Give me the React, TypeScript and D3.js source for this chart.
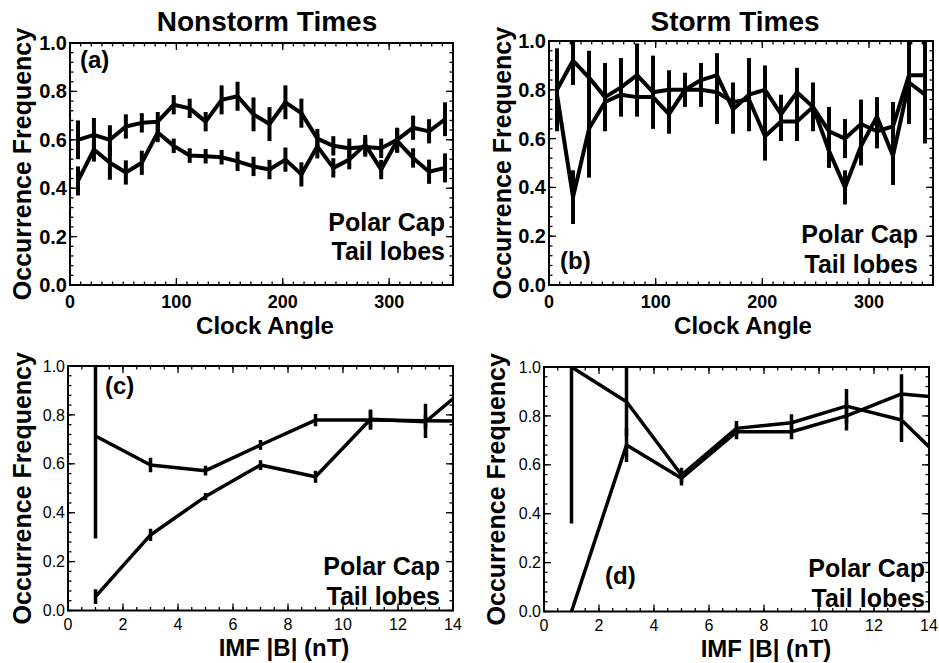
import React from 'react';
import * as d3 from 'd3';

// ---------- data ----------
const clockAngles = [7.5, 22.5, 37.5, 52.5, 67.5, 82.5, 97.5, 112.5, 127.5, 142.5, 157.5, 172.5, 187.5, 202.5, 217.5, 232.5, 247.5, 262.5, 277.5, 292.5, 307.5, 322.5, 337.5, 352.5];

const nonstormPolarCap = [0.60, 0.62, 0.60, 0.655, 0.67, 0.675, 0.745, 0.73, 0.675, 0.765, 0.78, 0.705, 0.665, 0.755, 0.71, 0.605, 0.575, 0.565, 0.57, 0.565, 0.60, 0.65, 0.635, 0.685];
const nonstormPolarCapErr = [0.08, 0.07, 0.06, 0.05, 0.04, 0.04, 0.04, 0.04, 0.04, 0.06, 0.06, 0.07, 0.07, 0.07, 0.06, 0.04, 0.04, 0.04, 0.04, 0.04, 0.05, 0.05, 0.05, 0.07];
const nonstormTailLobes = [0.43, 0.56, 0.505, 0.465, 0.505, 0.63, 0.575, 0.535, 0.532, 0.528, 0.511, 0.49, 0.477, 0.518, 0.457, 0.573, 0.484, 0.518, 0.58, 0.477, 0.596, 0.525, 0.468, 0.484];
const nonstormTailLobesErr = [0.06, 0.05, 0.07, 0.05, 0.05, 0.04, 0.03, 0.03, 0.03, 0.03, 0.04, 0.04, 0.04, 0.05, 0.05, 0.05, 0.04, 0.04, 0.04, 0.04, 0.05, 0.04, 0.05, 0.06];

const stormPolarCap = [0.80, 0.92, 0.85, 0.77, 0.81, 0.86, 0.79, 0.80, 0.80, 0.84, 0.86, 0.72, 0.78, 0.80, 0.70, 0.79, 0.73, 0.63, 0.60, 0.66, 0.63, 0.65, 0.86, 0.86];
const stormPolarCapErr = [0.17, 0.10, 0.11, 0.14, 0.12, 0.13, 0.15, 0.08, 0.07, 0.07, 0.09, 0.10, 0.15, 0.10, 0.08, 0.10, 0.10, 0.10, 0.08, 0.10, 0.07, 0.10, 0.20, 0.20];
const stormTailLobes = [0.78, 0.36, 0.64, 0.75, 0.78, 0.77, 0.77, 0.70, 0.80, 0.80, 0.79, 0.75, 0.76, 0.61, 0.67, 0.67, 0.73, 0.55, 0.40, 0.57, 0.69, 0.53, 0.83, 0.78];
const stormTailLobesErr = [0.10, 0.11, 0.20, 0.10, 0.08, 0.08, 0.07, 0.08, 0.06, 0.07, 0.13, 0.08, 0.08, 0.10, 0.08, 0.08, 0.07, 0.07, 0.07, 0.08, 0.08, 0.12, 0.10, 0.20];

const imfB = [1, 3, 5, 7, 9, 11, 13, 15];

const imfNonstormPolarCap = [0.714, 0.595, 0.572, 0.677, 0.779, 0.779, 0.776, 0.775];
const imfNonstormPolarCapErr = [0.42, 0.03, 0.02, 0.02, 0.025, 0.04, 0.07, 0.05];
const imfNonstormTailLobes = [0.057, 0.309, 0.466, 0.595, 0.547, 0.782, 0.772, 0.96];
const imfNonstormTailLobesErr = [0.03, 0.025, 0.015, 0.02, 0.025, 0.04, 0.03, 0.05];

const imfStormPolarCap = [1.0, 0.858, 0.558, 0.749, 0.772, 0.84, 0.783, 0.565];
const imfStormPolarCapErr = [0.64, 0.14, 0.03, 0.03, 0.035, 0.07, 0.09, 0.05];
const imfStormTailLobes = [0.0, 0.681, 0.545, 0.735, 0.735, 0.80, 0.89, 0.868];
const imfStormTailLobesErr = [0, 0.07, 0.03, 0.03, 0.03, 0.06, 0.08, 0.05];

const yTickValues = [0, 0.2, 0.4, 0.6, 0.8, 1.0];
const clockTickValues = [0, 100, 200, 300];
const imfTickValues = [0, 2, 4, 6, 8, 10, 12, 14];

const legendLabels = ['Polar Cap', 'Tail lobes'];
const titles = ['Nonstorm Times', 'Storm Times'];
const yTitle = 'Occurrence Frequency';

const FONT = '"Liberation Sans", Arial, Helvetica, sans-serif';

type Series = { x: number[]; y: number[]; e: number[] };

type PanelProps = {
  id: string;
  left: number; right: number; top: number; bottom: number;
  xDomain: [number, number];
  xTicks: number[];
  xMinor: number;
  boldTicks: boolean;
  xLabelY: number;
  series: Series[];
  strokeW: number;
  barW: number;
  tag: string; tagX: number; tagY: number;
  legendRight: number; legendY1: number; legendY2: number;
  xTitle: string; xTitleX: number; xTitleY: number;
  yTitleX: number;
};

function Panel(p: PanelProps) {
  const x = d3.scaleLinear().domain(p.xDomain).range([p.left, p.right]);
  const y = d3.scaleLinear().domain([0, 1]).range([p.bottom, p.top]);
  const line = d3.line<[number, number]>().x(d => x(d[0])).y(d => y(d[1]));
  const major = 7, minor = 3.5;
  const xMinorTicks = d3.range(p.xDomain[0], p.xDomain[1] + 1e-9, p.xMinor);
  const yMinorTicks = d3.range(0, 1.0001, 0.04);
  const tickFont = p.boldTicks ? 20 : 16;
  const tickWeight = p.boldTicks ? 'bold' : 'normal';
  const xTickFont = p.boldTicks ? 18 : 16;
  const midY = (p.top + p.bottom) / 2;
  return (
    <g>
      <defs>
        <clipPath id={p.id}>
          <rect x={p.left} y={p.top} width={p.right - p.left} height={p.bottom - p.top} />
        </clipPath>
      </defs>
      {/* minor and major ticks on all four sides */}
      <g stroke="#000" strokeWidth={1.3}>
        {xMinorTicks.map((t, i) => (
          <g key={'xm' + i}>
            <line x1={x(t)} x2={x(t)} y1={p.bottom} y2={p.bottom - minor} />
            <line x1={x(t)} x2={x(t)} y1={p.top} y2={p.top + minor} />
          </g>
        ))}
        {yMinorTicks.map((t, i) => (
          <g key={'ym' + i}>
            <line x1={p.left} x2={p.left + minor} y1={y(t)} y2={y(t)} />
            <line x1={p.right} x2={p.right - minor} y1={y(t)} y2={y(t)} />
          </g>
        ))}
        {p.xTicks.map((t, i) => (
          <g key={'xM' + i}>
            <line x1={x(t)} x2={x(t)} y1={p.bottom} y2={p.bottom - major} />
            <line x1={x(t)} x2={x(t)} y1={p.top} y2={p.top + major} />
          </g>
        ))}
        {yTickValues.map((t, i) => (
          <g key={'yM' + i}>
            <line x1={p.left} x2={p.left + major} y1={y(t)} y2={y(t)} />
            <line x1={p.right} x2={p.right - major} y1={y(t)} y2={y(t)} />
          </g>
        ))}
      </g>
      <rect x={p.left} y={p.top} width={p.right - p.left} height={p.bottom - p.top} fill="none" stroke="#000" strokeWidth={2} />
      {/* tick labels */}
      {yTickValues.map((t, i) => (
        <text key={'yl' + i} x={p.left - 3} y={y(t)} dy="0.35em" textAnchor="end"
          fontFamily={FONT} fontSize={tickFont} fontWeight={tickWeight}>{d3.format('.1f')(t)}</text>
      ))}
      {p.xTicks.map((t, i) => (
        <text key={'xl' + i} x={x(t)} y={p.xLabelY} textAnchor="middle"
          fontFamily={FONT} fontSize={xTickFont} fontWeight={tickWeight}>{t}</text>
      ))}
      {/* data */}
      <g clipPath={`url(#${p.id})`}>
        {p.series.map((s, si) => (
          <g key={'s' + si}>
            <path d={line(s.x.map((v, i) => [v, s.y[i]] as [number, number])) || ''}
              fill="none" stroke="#000" strokeWidth={p.strokeW} strokeLinejoin="round" />
            {s.x.map((v, i) => s.e[i] > 0 ? (
              <line key={'e' + i} x1={x(v)} x2={x(v)} y1={y(s.y[i] - s.e[i])} y2={y(s.y[i] + s.e[i])}
                stroke="#000" strokeWidth={p.barW} />
            ) : null)}
          </g>
        ))}
      </g>
      {/* labels */}
      <text x={p.tagX} y={p.tagY} fontFamily={FONT} fontSize={24} fontWeight="bold">{p.tag}</text>
      <text x={p.legendRight} y={p.legendY1} textAnchor="end" fontFamily={FONT} fontSize={25} fontWeight="bold">{legendLabels[0]}</text>
      <text x={p.legendRight} y={p.legendY2} textAnchor="end" fontFamily={FONT} fontSize={25} fontWeight="bold">{legendLabels[1]}</text>
      <text x={p.xTitleX} y={p.xTitleY} textAnchor="middle" fontFamily={FONT} fontSize={24} fontWeight="bold">{p.xTitle}</text>
      <text transform={`translate(${p.yTitleX},${midY}) rotate(-90)`} textAnchor="middle"
        fontFamily={FONT} fontSize={25} fontWeight="bold">{yTitle}</text>
    </g>
  );
}

export default function App() {
  return (
    <svg width={939} height={663} style={{ position: 'absolute', left: 0, top: 0, background: '#fff' }}>
      <rect width={939} height={663} fill="#fff" />
      <text x={267} y={31} textAnchor="middle" fontFamily={FONT} fontSize={28} fontWeight="bold">{titles[0]}</text>
      <text x={735} y={31} textAnchor="middle" fontFamily={FONT} fontSize={28} fontWeight="bold">{titles[1]}</text>
      <Panel id="clipA" left={70} right={453} top={43} bottom={285} xDomain={[0, 360]} xTicks={clockTickValues} xMinor={10}
        boldTicks={true} xLabelY={308} strokeW={4} barW={4}
        series={[
          { x: clockAngles, y: nonstormPolarCap, e: nonstormPolarCapErr },
          { x: clockAngles, y: nonstormTailLobes, e: nonstormTailLobesErr },
        ]}
        tag="(a)" tagX={80} tagY={68}
        legendRight={445} legendY1={231} legendY2={260}
        xTitle="Clock Angle" xTitleX={265} xTitleY={334} yTitleX={31} />
      <Panel id="clipB" left={549} right={933} top={41} bottom={285} xDomain={[0, 360]} xTicks={clockTickValues} xMinor={10}
        boldTicks={true} xLabelY={308} strokeW={4} barW={4}
        series={[
          { x: clockAngles, y: stormPolarCap, e: stormPolarCapErr },
          { x: clockAngles, y: stormTailLobes, e: stormTailLobesErr },
        ]}
        tag="(b)" tagX={560} tagY={269}
        legendRight={918} legendY1={243} legendY2={273}
        xTitle="Clock Angle" xTitleX={743} xTitleY={334} yTitleX={511} />
      <Panel id="clipC" left={68} right={453} top={366} bottom={610.5} xDomain={[0, 14]} xTicks={imfTickValues} xMinor={0.5}
        boldTicks={false} xLabelY={630} strokeW={3.5} barW={3.5}
        series={[
          { x: imfB, y: imfNonstormPolarCap, e: imfNonstormPolarCapErr },
          { x: imfB, y: imfNonstormTailLobes, e: imfNonstormTailLobesErr },
        ]}
        tag="(c)" tagX={105} tagY={394}
        legendRight={440} legendY1={575} legendY2={605}
        xTitle="IMF |B| (nT)" xTitleX={284} xTitleY={656} yTitleX={31} />
      <Panel id="clipD" left={544} right={929} top={367} bottom={611.5} xDomain={[0, 14]} xTicks={imfTickValues} xMinor={0.5}
        boldTicks={false} xLabelY={631} strokeW={3.5} barW={3.5}
        series={[
          { x: imfB, y: imfStormPolarCap, e: imfStormPolarCapErr },
          { x: imfB, y: imfStormTailLobes, e: imfStormTailLobesErr },
        ]}
        tag="(d)" tagX={605} tagY={584}
        legendRight={925} legendY1={577} legendY2={607}
        xTitle="IMF |B| (nT)" xTitleX={766} xTitleY={657} yTitleX={505} />
    </svg>
  );
}
